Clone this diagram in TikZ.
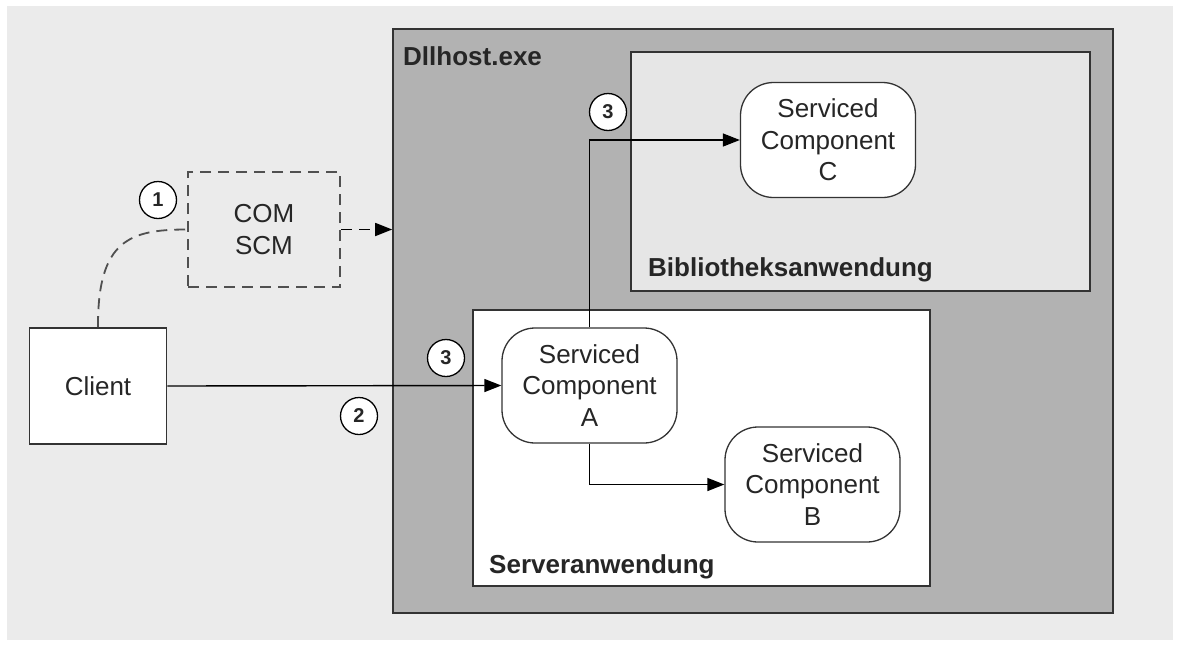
\documentclass[tikz,border=0pt]{standalone}
\usepackage{fontspec}
\setmainfont{Liberation Sans}
\usetikzlibrary{arrows.meta}
\definecolor{bgc}{HTML}{EBEBEB}
\definecolor{dllc}{HTML}{B2B2B2}
\definecolor{bibc}{HTML}{E6E6E6}
\definecolor{linec}{HTML}{333333}
\definecolor{dashc}{HTML}{505050}
\definecolor{txtc}{HTML}{262626}
\begin{document}
\begin{tikzpicture}[x=1pt,y=-1pt,
  every node/.style={text=txtc},
  container/.style={draw=linec,line width=1.6pt,inner sep=0pt,anchor=center},
  comp/.style={draw=linec,line width=1.3pt,fill=white,rounded corners=33pt,
    minimum width=175pt,minimum height=115pt,inner sep=0pt,align=center,
    font=\fontsize{26}{31.5}\selectfont},
  plainbox/.style={draw=linec,line width=1.6pt,fill=white,inner sep=0pt,align=center,
    font=\fontsize{26}{31.5}\selectfont},
  dashbox/.style={draw=dashc,line width=2pt,dash pattern=on 11pt off 7pt,inner sep=0pt,
    align=center,font=\fontsize{26}{32}\selectfont},
  numc/.style={circle,draw=black,line width=1.3pt,fill=white,minimum size=37pt,inner sep=0pt,
    font=\fontsize{20}{20}\selectfont\bfseries},
  boxlabel/.style={anchor=base west,inner sep=0pt,font=\fontsize{26}{26}\selectfont\bfseries},
  conn/.style={draw=black,line width=1.4pt,-{Triangle[length=17pt,width=13pt]}},
  dconn/.style={draw=dashc,line width=1.8pt,dash pattern=on 11pt off 7pt},
]
\useasboundingbox (0,0) rectangle (1183,646);
\fill[bgc] (7,6) rectangle (1173,640);

\node[container,fill=dllc,minimum width=720pt,minimum height=584pt] (dll) at (753,321) {};
\node[container,fill=bibc,minimum width=459pt,minimum height=239pt] (bib) at (860.5,171.5) {};
\node[container,fill=white,minimum width=457pt,minimum height=276pt] (srv) at (701.5,448) {};

\node[boxlabel] (dlllabel) at (403,65) {Dllhost.exe};
\node[boxlabel] (biblabel) at (648,276) {Bibliotheksanwendung};
\node[boxlabel] (srvlabel) at (489,573) {Serveranwendung};

\node[dashbox,minimum width=152pt,minimum height=115pt] (scm) at (264,229.5) {COM\\SCM};
\node[plainbox,minimum width=137pt,minimum height=116pt] (client) at (98,386) {Client};

\node[comp] (a) at (589.5,385.5) {Serviced\\Component\\A};
\node[comp] (b) at (812.5,484.5) {Serviced\\Component\\B};
\node[comp] (c) at (828,140) {Serviced\\Component\\C};

% connectors
\draw[dconn] (client.north) -- ++(0,-2) .. controls (98,240) and (130,229.5) .. (scm.west);
\draw[draw=black,line width=1.6pt,dash pattern=on 11pt off 7pt,
  -{Triangle[length=17pt,width=13pt]}] (scm.east) -- (scm.east -| dll.west);
\draw[conn] (client.east) -- (a.west);
\draw[conn] (a.north) |- (c.west);
\draw[conn] (a.south) |- (b.west);

% step numbers
\node[numc] (n1) at (158,200) {1};
\node[numc] (n3a) at (608,112) {3};
\node[numc] (n3b) at (446,358) {3};
\node[numc] (n2) at (359,416) {2};
\end{tikzpicture}
\end{document}
